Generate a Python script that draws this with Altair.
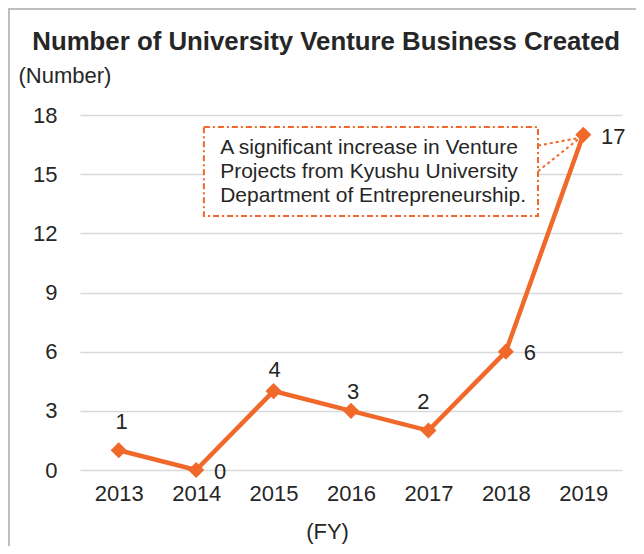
import altair as alt
import pandas as pd

years = [2013, 2014, 2015, 2016, 2017, 2018, 2019]
counts = [1, 0, 4, 3, 2, 6, 17]
y_ticks = [0, 3, 6, 9, 12, 15, 18]

# label placement groups (pixel offsets from each point)
label_offsets = {
    2013: (3, -28), 2014: (24, 2), 2015: (1, -21), 2016: (2, -19),
    2017: (-5, -29), 2018: (24, 1), 2019: (30, 2),
}

note_lines = [
    "A significant increase in Venture",
    "Projects from Kyushu University",
    "Department of Entrepreneurship.",
]
note_box = {"x": 2014.10, "x2": 2018.415, "y": 17.39, "y2": 12.88}
note_text_x = 2014.31
note_text_y = [16.33, 15.11, 13.89]
connector_from_y = [16.45, 15.15]
connector_to = (2018.96, 16.85)

ORANGE = "#F0692B"
TXT = "#262626"
FONT = "Liberation Sans"
FS = 22

df = pd.DataFrame({"year": years, "count": counts})

xs = alt.Scale(domain=[2012.5, 2019.5], nice=False, zero=False)
ys = alt.Scale(domain=[0, 18], nice=False)

base = alt.Chart(df)

line = base.mark_line(color=ORANGE, strokeWidth=4.5).encode(
    x=alt.X("year:Q", scale=xs,
            axis=alt.Axis(values=years, format="d", grid=False, domain=False, ticks=False,
                          labelFontSize=FS, labelColor=TXT, labelFont=FONT, labelPadding=13,
                          title="(FY)", titleFontSize=FS, titleFontWeight="normal", titleColor=TXT,
                          titleFont=FONT, titleX=247, titleY=61, titleAlign="center",
                          titleBaseline="middle")),
    y=alt.Y("count:Q", scale=ys,
            axis=alt.Axis(values=y_ticks, grid=True, gridColor="#d9d9d9", gridWidth=1.5,
                          domain=False, ticks=False, labelFontSize=FS, labelColor=TXT,
                          labelFont=FONT, labelPadding=23,
                          title="(Number)", titleAngle=0, titleFontSize=FS,
                          titleFontWeight="normal", titleColor=TXT, titleFont=FONT,
                          titleX=-62, titleY=-40, titleAlign="left", titleBaseline="middle")),
)

points = base.mark_point(shape="diamond", filled=True, color=ORANGE, size=260, opacity=1).encode(
    x=alt.X("year:Q", scale=xs), y=alt.Y("count:Q", scale=ys)
)

label_layers = []
for yr, (dx, dy) in label_offsets.items():
    label_layers.append(
        base.transform_filter(alt.datum.year == yr).mark_text(
            font=FONT, fontSize=FS, color=TXT, dx=dx, dy=dy, baseline="middle", align="center"
        ).encode(x=alt.X("year:Q", scale=xs), y=alt.Y("count:Q", scale=ys), text="count:Q")
    )

box_df = pd.DataFrame([note_box])
box = alt.Chart(box_df).mark_rect(
    fill="white", stroke=ORANGE, strokeWidth=2, strokeDash=[6, 3, 2, 3]
).encode(x=alt.X("x:Q", scale=xs), x2="x2", y=alt.Y("y:Q", scale=ys), y2="y2")

conn_df = pd.DataFrame({
    "x": [note_box["x2"]] * len(connector_from_y),
    "y": connector_from_y,
    "x2": [connector_to[0]] * len(connector_from_y),
    "y2": [connector_to[1]] * len(connector_from_y),
})
conn = alt.Chart(conn_df).mark_rule(color=ORANGE, strokeWidth=2, strokeDash=[3, 3]).encode(
    x=alt.X("x:Q", scale=xs), y=alt.Y("y:Q", scale=ys), x2="x2", y2="y2"
)

note_df = pd.DataFrame({"line": note_lines, "x": [note_text_x] * 3, "y": note_text_y})
note = alt.Chart(note_df).mark_text(
    font=FONT, fontSize=21, color=TXT, align="left", baseline="middle"
).encode(x=alt.X("x:Q", scale=xs), y=alt.Y("y:Q", scale=ys), text="line:N")

border = alt.Chart(df).mark_rect(fill=None, stroke="#bfbfbf", strokeWidth=1.5, clip=False).encode(
    x=alt.value(-71), x2=alt.value(700), y=alt.value(-106), y2=alt.value(600)
)

chart = alt.layer(border, line, conn, box, note, points, *label_layers).properties(
    width=542,
    height=355,
    padding={"left": 72, "top": 107, "right": 14, "bottom": 76},
    autosize=alt.AutoSizeParams(type="none"),
    title=alt.TitleParams(
        "Number of University Venture Business Created", anchor="start", dx=24,
        fontSize=25.8, fontWeight="bold", font=FONT, color=TXT, offset=0, dy=48,
    ),
).configure_view(stroke=None)

chart.save("out.html", embed_options={"renderer": "svg", "actions": False})
